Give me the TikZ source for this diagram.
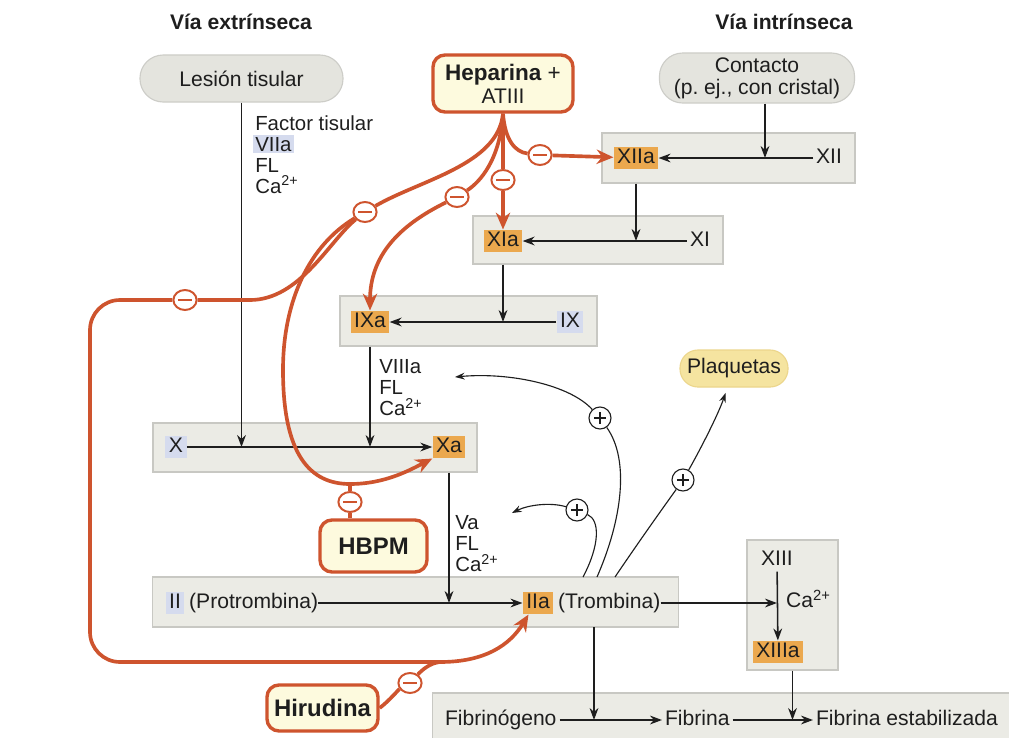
\documentclass[tikz,border=0pt]{standalone}
\usepackage{fontspec}
\setmainfont{Liberation Sans}
\usetikzlibrary{arrows.meta,shapes.geometric}
\definecolor{rojo}{RGB}{206,84,46}
\definecolor{crema}{RGB}{253,250,222}
\definecolor{naranja}{RGB}{235,168,78}
\definecolor{azulclaro}{RGB}{213,219,238}
\definecolor{grisfila}{RGB}{235,235,229}
\definecolor{bordefila}{RGB}{200,200,195}
\definecolor{grispildora}{RGB}{228,228,222}
\definecolor{bordepildora}{RGB}{205,205,200}
\definecolor{amarillo}{RGB}{245,228,160}
\definecolor{bordeamarillo}{RGB}{236,214,140}
\definecolor{texto}{RGB}{30,30,30}
\setlength{\fboxsep}{1.5pt}
\begin{document}
\begin{tikzpicture}[x=0.025cm, y=-0.025cm,
    every node/.style={font=\fontsize{15}{15}\selectfont, text=texto},
    fila/.style={draw=bordefila, fill=grisfila, line width=0.8pt, minimum height=1.25cm, inner sep=0pt},
    pildora/.style={draw=bordepildora, fill=grispildora, line width=0.8pt, rounded corners=0.58cm, align=center, inner sep=0pt},
    farmaco/.style={draw=rojo, fill=crema, line width=2.4pt, rounded corners=0.3cm, align=center, inner sep=0pt, font=\fontsize{16}{16.5}\selectfont\bfseries},
    activo/.style={fill=naranja, inner xsep=2.5pt, inner ysep=1.5pt, text height=10.5pt, text depth=2.5pt},
    inactivo/.style={fill=azulclaro, inner xsep=2.5pt, inner ysep=1.5pt, text height=10.5pt, text depth=2.5pt},
    simple/.style={inner xsep=2pt, inner ysep=1.5pt, text height=10.5pt, text depth=2.5pt},
    cofactores/.style={align=left, anchor=north west, inner sep=0pt, font=\fontsize{14.5}{15}\selectfont},
    titulo/.style={font=\fontsize{15}{16}\selectfont\bfseries},
    inhibe/.style={ellipse, draw=rojo, fill=white, line width=1.4pt, minimum width=0.58cm, minimum height=0.5cm, inner sep=0pt,
      path picture={\draw[rojo, line width=1.4pt] ([xshift=-0.17cm]path picture bounding box.center) -- ([xshift=0.17cm]path picture bounding box.center);}},
    estimula/.style={circle, draw=texto, fill=white, line width=0.8pt, minimum size=0.55cm, inner sep=0pt,
      path picture={\draw[texto, line width=0.9pt] ([xshift=-0.15cm]path picture bounding box.center) -- ([xshift=0.15cm]path picture bounding box.center)
        ([yshift=-0.15cm]path picture bounding box.center) -- ([yshift=0.15cm]path picture bounding box.center);}},
    flecha/.style={draw=texto, line width=1.1pt, -{Stealth[length=0.3cm, width=0.22cm]}},
    linea/.style={draw=texto, line width=0.8pt},
    fina/.style={draw=texto, line width=0.8pt, -{Stealth[length=0.24cm, width=0.17cm]}},
    rojalinea/.style={draw=rojo, line width=2.6pt},
    rojaflecha/.style={rojalinea, -{Stealth[length=0.42cm, width=0.36cm]}}
  ]
  \fill[white] (0,0) rectangle (1009,738);
  \useasboundingbox (0,0) rectangle (1009,738);

  % encabezados
  \node[titulo] (extrinseca) at (241,22) {Vía extrínseca};
  \node[titulo] (intrinseca) at (784,22) {Vía intrínseca};

  % filas de la cascada
  \node[fila, minimum width=6.325cm] (filaXII) at (728.5,158) {};
  \node[fila, minimum width=6.25cm, minimum height=1.2cm] (filaXI) at (598,240) {};
  \node[fila, minimum width=6.425cm] (filaIX) at (468.5,321) {};
  \node[fila, minimum width=8.1cm, minimum height=1.225cm] (filaX) at (315,447.5) {};
  \node[fila, minimum width=13.125cm] (filaII) at (415.5,602) {};
  \node[fila, minimum width=2.275cm, minimum height=3.25cm] (filaXIII) at (792.5,605) {};
  \node[fila, minimum width=14.5cm] (filaFib) at (723,718) {};

  % origenes y farmacos
  \node[pildora, minimum width=5.075cm, minimum height=1.175cm] (lesion) at (241.5,78.5) {Lesión tisular};
  \node[pildora, minimum width=4.875cm, minimum height=1.25cm, font=\fontsize{15}{15.5}\selectfont] (contacto) at (757,78) {Contacto\\(p.\ ej., con cristal)};
  \node[pildora, draw=bordeamarillo, fill=amarillo, minimum width=2.7cm, minimum height=0.925cm, rounded corners=0.45cm] (plaquetas) at (734,368.5) {Plaquetas};
  \node[farmaco, minimum width=3.5cm, minimum height=1.425cm] (heparina) at (503,83.5) {Heparina {\mdseries +}\\{\mdseries\fontsize{15}{15}\selectfont ATIII}};
  \node[farmaco, minimum width=2.675cm, minimum height=1.3cm, font=\fontsize{17}{18}\selectfont\bfseries] (hbpm) at (373.5,546) {HBPM};
  \node[farmaco, minimum width=2.775cm, minimum height=1.15cm, font=\fontsize{17}{18}\selectfont\bfseries] (hirudina) at (322.5,708) {Hirudina};

  % factores
  \node[activo] (XIIa) at (636,158) {XIIa};
  \node[simple] (XII) at (829,158) {XII};
  \node[activo] (XIa) at (503,241) {XIa};
  \node[simple] (XI) at (700,241) {XI};
  \node[activo] (IXa) at (370,322) {IXa};
  \node[inactivo] (IX) at (570,322) {IX};
  \node[inactivo] (X) at (176,447) {X};
  \node[activo] (Xa) at (449,447) {Xa};
  \node[inactivo] (II) at (175,603) {II};
  \node[simple, anchor=west, inner xsep=0pt] (protrombina) at ([xshift=3pt]II.east) {(Protrombina)};
  \node[activo] (IIa) at (538,603) {IIa};
  \node[simple, anchor=west, inner xsep=0pt] (trombina) at ([xshift=3pt]IIa.east) {(Trombina)};
  \node[simple] (XIII) at (777,560) {XIII};
  \node[activo] (XIIIa) at (778,652) {XIIIa};
  \node[simple, anchor=west] (calcio13) at (783,602) {Ca\textsuperscript{2+}};
  \node[simple, anchor=west] (fibrinogeno) at (442,720) {Fibrinógeno};
  \node[simple, anchor=west] (fibrina) at (662,720) {Fibrina};
  \node[simple, anchor=west] (estabilizada) at (813,720) {Fibrina estabilizada};

  % cofactores
  \node[cofactores] (cofVII) at (255,115) {Factor tisular\\\hspace*{-1.5pt}\smash{\colorbox{azulclaro}{VIIa}}\\FL\\Ca\textsuperscript{2+}};
  \node[cofactores] (cofVIII) at (379,359) {VIIIa\\FL\\Ca\textsuperscript{2+}};
  \node[cofactores] (cofV) at (455,515) {Va\\FL\\Ca\textsuperscript{2+}};

  % signos
  \node[inhibe] (m1) at (540,155) {};
  \node[inhibe] (m2) at (503,180) {};
  \node[inhibe] (m3) at (457,197) {};
  \node[inhibe] (m4) at (365,212) {};
  \node[inhibe] (m5) at (185,300) {};
  \node[inhibe] (m6) at (350,502) {};
  \node[inhibe] (m7) at (410,683) {};
  \node[estimula] (p1) at (577,510) {};
  \node[estimula] (p2) at (600,418) {};
  \node[estimula] (p3) at (683,480) {};

  \coordinate (fondoXa) at (350,484);
  \coordinate (giro) at (440,662);
  \coordinate (bajaT) at (594,627);
  \coordinate (salidaA) at (583,577);
  \coordinate (salidaB) at (597,577);
  \coordinate (salidaC) at (615,577);
  \coordinate (puntaA) at (512,513);
  \coordinate (puntaB) at (455,377);

  % cascada
  \draw[flecha] (lesion.south) -- (lesion.south |- X.center);
  \draw[flecha] (X) -- (Xa);
  \draw[flecha] ([xshift=0.2cm]contacto.south) -- ([xshift=0.2cm]contacto.south |- XII.center);
  \draw[flecha] (XII) -- (XIIa);
  \draw[flecha] (XIIa.center |- filaXII.south) -- (XIIa.center |- XI.center);
  \draw[flecha] (XI) -- (XIa);
  \draw[flecha] (XIa.center |- filaXI.south) -- (XIa.center |- IX.center);
  \draw[flecha] (IX) -- (IXa);
  \draw[flecha] (IXa.center |- filaIX.south) -- (IXa.center |- Xa.center);
  \draw[flecha] (Xa.center |- filaX.south) -- (Xa.center |- IIa.center);
  \draw[flecha] (protrombina) -- (IIa);
  \draw[flecha] (trombina) -- (trombina -| XIII.center);
  \draw[flecha] (XIII) -- (XIIIa);
  \draw[flecha] (filaXIII.south) -- (filaXIII.south |- estabilizada.center);
  \draw[flecha] (bajaT) -- (bajaT |- fibrina.center);
  \draw[flecha] (fibrinogeno) -- (fibrina);
  \draw[flecha] (fibrina) -- (estabilizada);

  % retroalimentacion de la trombina
  \draw[linea] (salidaA) .. controls (600,545) and (600,520) .. (p1);
  \draw[fina] (p1) .. controls (550,502) and (528,505) .. (puntaA);
  \draw[linea] (salidaB) .. controls (622,520) and (630,460) .. (p2);
  \draw[fina] (p2) .. controls (570,385) and (510,372) .. (puntaB);
  \draw[linea] (salidaC) .. controls (640,540) and (665,505) .. (p3);
  \draw[fina, shorten >=4pt] (p3) .. controls (700,450) and (718,415) .. (plaquetas);

  % inhibidores
  \draw[rojalinea] (heparina.south) .. controls (505,140) and (515,152) .. (m1);
  \draw[rojaflecha] (m1) -- (XIIa);
  \draw[rojalinea] (heparina.south) -- (m2);
  \draw[rojaflecha] (m2) -- (XIa);
  \draw[rojalinea] (heparina.south) .. controls (500,160) and (480,182) .. (m3);
  \draw[rojaflecha] (m3) .. controls (400,225) and (370,255) .. (IXa);
  \draw[rojalinea] (heparina.south) .. controls (498,165) and (420,180) .. (m4);
  \draw[rojalinea] (m4) .. controls (310,245) and (283,300) .. (283,370) .. controls (283,455) and (310,484) .. (fondoXa);
  \draw[rojaflecha] (fondoXa) .. controls (385,484) and (410,470) .. (Xa.south west);
  \draw[rojalinea] (hbpm.north -| m6) -- (m6);
  \draw[rojalinea] (m6) -- (fondoXa);
  \draw[rojalinea] (m4) .. controls (330,240) and (300,300) .. (250,300) -- (m5);
  \draw[rojalinea, rounded corners=0.75cm] (m5) -- (90,300) -- (90,662) -- (giro);
  \draw[rojaflecha] (giro) .. controls (485,662) and (510,645) .. ([xshift=0.15cm]IIa.south west);
  \draw[rojalinea] (hirudina.east) .. controls (390,700) and (398,690) .. (m7);
  \draw[rojalinea] (m7) .. controls (422,670) and (430,663) .. (giro);
\end{tikzpicture}
\end{document}
